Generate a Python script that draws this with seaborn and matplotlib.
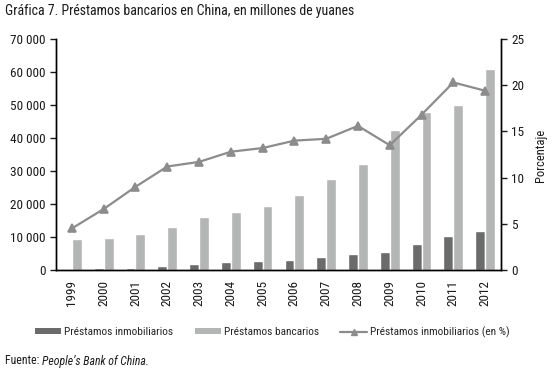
import numpy as np
import pandas as pd
import matplotlib
matplotlib.use("Agg")
import matplotlib.pyplot as plt
import seaborn as sns
from matplotlib.lines import Line2D
from matplotlib.patches import Patch
from matplotlib.ticker import FuncFormatter, MultipleLocator

years = ["1999", "2000", "2001", "2002", "2003", "2004", "2005",
         "2006", "2007", "2008", "2009", "2010", "2011", "2012"]
inmobiliarios = [0, 500, 700, 1200, 1900, 2300, 2700, 3100, 3900, 4900, 5600, 8000, 10300, 11800]
bancarios = [9300, 9800, 10900, 13100, 16000, 17700, 19500, 22600, 27700, 32100, 42500, 47900, 50000, 60900]
porcentaje = [4.5, 6.6, 9.0, 11.2, 11.7, 12.8, 13.2, 14.0, 14.2, 15.6, 13.5, 16.8, 20.3, 19.4]

lab_inm = "Préstamos inmobiliarios"
lab_ban = "Préstamos bancarios"
lab_pct = "Préstamos inmobiliarios (en %)"

df = pd.DataFrame({
    "year": years * 2,
    "serie": [lab_inm] * len(years) + [lab_ban] * len(years),
    "valor": inmobiliarios + bancarios,
})
dfp = pd.DataFrame({"year": years, "pct": porcentaje})

sns.set_theme(style="white")
FONT = ["Roboto Condensed", "Liberation Sans Narrow", "DejaVu Sans"]
plt.rcParams["font.family"] = FONT
plt.rcParams["font.stretch"] = "condensed"

C_DARK = "#6b6b6b"
C_LIGHT = "#b4b6b6"
C_LINE = "#8c8c8c"
TXT = "#1a1a1a"

fig = plt.figure(figsize=(5.53, 3.75), dpi=100)
ax = fig.add_axes([56 / 553, 1 - 270 / 375, 445 / 553, 231 / 375])

sns.barplot(data=df, x="year", y="valor", hue="serie", order=years,
            hue_order=[lab_inm, lab_ban], palette=[C_DARK, C_LIGHT],
            width=0.62, saturation=1, ax=ax, legend=False)

ax2 = ax.twinx()
sns.pointplot(data=dfp, x="year", y="pct", order=years, color=C_LINE,
              markers="^", markersize=6, linewidth=1.6, ax=ax2)

for a in (ax, ax2):
    a.set_xlim(-0.5, len(years) - 0.5)
    a.set_xlabel("")
    a.set_ylabel("")
    a.grid(False)
    for s in ("left", "bottom", "right"):
        a.spines[s].set_visible(True)
        a.spines[s].set_color("black")
        a.spines[s].set_linewidth(1.0)
    a.spines["top"].set_visible(False)

ax.set_ylim(0, 70000)
ax.yaxis.set_major_locator(MultipleLocator(10000))
ax.yaxis.set_major_formatter(FuncFormatter(lambda v, p: f"{int(v):,}".replace(",", " ")))
ax2.set_ylim(0, 25)
ax2.yaxis.set_major_locator(MultipleLocator(5))

ax.set_xticks(range(len(years)))
ax.set_xticklabels(years, rotation=90)
ax.set_xticks(np.arange(-0.5, len(years), 1.0), minor=True)
ax.tick_params(axis="x", which="major", length=0, pad=7, labelsize=9.5, colors=TXT)
ax.tick_params(axis="x", which="minor", direction="inout", length=7, width=1, color="black")
ax.tick_params(axis="y", which="major", direction="out", length=4, width=1, labelsize=9.5,
               colors=TXT, left=True)
ax2.tick_params(axis="y", which="major", direction="out", length=4, width=1, labelsize=9.5,
                colors=TXT, right=True)
ax2.tick_params(axis="x", which="both", bottom=False, labelbottom=False)
for a in (ax, ax2):
    for sp in a.spines.values():
        sp.set_zorder(5)

fig.text(541 / 553, 1 - 155 / 375, "Porcentaje", rotation=90, ha="center", va="center",
         fontsize=9, color=TXT)

fig.text(5 / 553, 1 - 11 / 375, "Gráfica 7. Préstamos bancarios en China, en millones de yuanes",
         ha="left", va="center", fontsize=10, color=TXT)

handles = [Patch(facecolor=C_DARK, edgecolor="none", label=lab_inm),
           Patch(facecolor=C_LIGHT, edgecolor="none", label=lab_ban),
           Line2D([0], [0], color=C_LINE, lw=1.6, marker="^", markersize=5, label=lab_pct)]
fig.legend(handles=handles, loc="center", bbox_to_anchor=(272 / 553, 1 - 332 / 375), ncol=3,
           frameon=False, fontsize=8.2, handlelength=2.3, handleheight=0.35,
           columnspacing=1.9, handletextpad=0.25, borderpad=0)

t1 = fig.text(5 / 553, 1 - 361 / 375, "Fuente: ", ha="left", va="center", fontsize=8.5,
              color=TXT)
fig.canvas.draw()
bb = t1.get_window_extent()
fig.text(bb.x1 / fig.bbox.width, 1 - 361 / 375, "People’s Bank of China.", ha="left",
         va="center", fontsize=8.5, style="italic", color=TXT)

fig.savefig("out.png", dpi=100)
